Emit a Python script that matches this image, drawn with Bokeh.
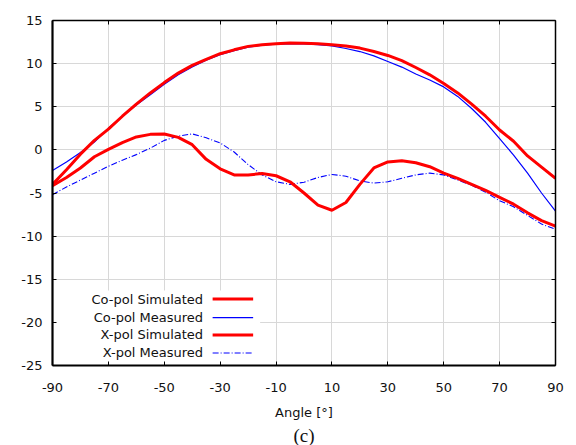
from bokeh.plotting import figure
from bokeh.models import (Range1d, LinearAxis, FixedTicker, Label, Arrow,
                          BoxAnnotation, Title)
from bokeh.embed import file_html
from bokeh.resources import INLINE

# ---------------- data ----------------
angles = list(range(-90, 91, 5))

copol_sim = [-4.0, -2.3, -0.5, 1.1, 2.4, 3.9, 5.3, 6.6, 7.8, 8.9, 9.8, 10.5,
             11.15, 11.6, 12.0, 12.2, 12.3, 12.4, 12.35, 12.3, 12.2, 12.05,
             11.8, 11.4, 10.95, 10.35, 9.55, 8.7, 7.7, 6.6, 5.3, 3.9, 2.3,
             1.0, -0.7, -2.0, -3.3]

copol_meas = [-2.4, -1.4, -0.3, 0.9, 2.5, 3.9, 5.2, 6.4, 7.6, 8.7, 9.6, 10.4,
              11.05, 11.5, 11.9, 12.15, 12.25, 12.3, 12.3, 12.2, 12.05, 11.75,
              11.4, 10.9, 10.25, 9.6, 8.8, 8.1, 7.3, 6.2, 4.8, 3.2, 1.3,
              -0.6, -2.7, -5.0, -7.1]

xpol_sim = [-4.15, -3.2, -2.1, -0.8, 0.05, 0.85, 1.5, 1.8, 1.85, 1.45, 0.6,
            -1.1, -2.2, -2.9, -2.9, -2.75, -3.0, -3.7, -5.0, -6.4, -7.0, -6.1,
            -4.0, -2.1, -1.4, -1.25, -1.5, -1.95, -2.7, -3.3, -4.0, -4.7,
            -5.5, -6.3, -7.3, -8.2, -8.85]

xpol_meas = [-5.2, -4.3, -3.5, -2.7, -1.9, -1.2, -0.55, 0.2, 1.1, 1.6, 1.85,
             1.4, 0.8, -0.25, -1.7, -2.9, -3.7, -4.0, -3.75, -3.2, -2.85,
             -3.05, -3.6, -3.85, -3.7, -3.3, -2.9, -2.7, -2.9, -3.5, -4.1,
             -4.9, -5.9, -6.6, -7.6, -8.6, -9.2]

series_labels = ["Co-pol Simulated", "Co-pol Measured", "X-pol Simulated",
                 "X-pol Measured"]
x_ticks = list(range(-90, 91, 20))
y_ticks = list(range(-25, 16, 5))
x_label = "Angle [°]"
caption = "(c)"

# ---------------- figure ----------------
FONT = "DejaVu Sans"
p = figure(width=576, height=445, output_backend="svg", toolbar_location=None,
           x_range=Range1d(-90, 90), y_range=Range1d(-25, 15),
           min_border_left=52, min_border_right=21, min_border_top=20,
           min_border_bottom=8)
p.outline_line_color = None
p.background_fill_color = "white"
p.border_fill_color = "white"

# grid
for g in (p.xgrid, p.ygrid):
    g.grid_line_color = "#d8d8d8"
    g.grid_line_width = 1
p.xgrid.ticker = FixedTicker(ticks=x_ticks)
p.ygrid.ticker = FixedTicker(ticks=y_ticks)

# main axes
xa = p.xaxis[0]
ya = p.yaxis[0]
xa.ticker = FixedTicker(ticks=x_ticks)
ya.ticker = FixedTicker(ticks=y_ticks)
xa.major_label_overrides = {t: str(t) for t in x_ticks}
ya.major_label_overrides = {t: str(t) for t in y_ticks}
for ax in (xa, ya):
    ax.axis_line_color = "black"
    ax.axis_line_width = 2.2
    ax.major_tick_in = 4
    ax.major_tick_out = 0
    ax.minor_tick_in = 0
    ax.minor_tick_out = 0
    ax.major_tick_line_color = "black"
    ax.major_tick_line_width = 1
    ax.major_label_text_font = FONT
    ax.major_label_text_font_size = "13px"
    ax.major_label_text_color = "#111111"
ya.major_label_standoff = 10
xa.major_label_standoff = 17
xa.axis_label = x_label
xa.axis_label_text_font = FONT
xa.axis_label_text_font_size = "13px"
xa.axis_label_text_font_style = "normal"
xa.axis_label_text_color = "#111111"
xa.axis_label_standoff = 10

# top / right frame axes (ticks only, empty labels)
for loc, ticks in (("right", y_ticks), ("above", x_ticks)):
    a = LinearAxis(ticker=FixedTicker(ticks=ticks))
    a.major_label_overrides = {t: "" for t in ticks}
    a.axis_line_color = "black"
    a.axis_line_width = 1.5
    a.major_tick_in = 4
    a.major_tick_out = 0
    a.minor_tick_in = 0
    a.minor_tick_out = 0
    a.major_tick_line_color = "black"
    a.major_label_standoff = 0
    p.add_layout(a, loc)

# caption
p.add_layout(Title(text=caption, align="center", text_font="Liberation Serif",
                   text_font_size="19px", text_font_style="normal",
                   text_color="#111111", standoff=0, offset=0), "below")

# ---------------- curves ----------------
p.line(angles, copol_meas, line_color="#0000ff", line_width=1.2)
p.line(angles, xpol_meas, line_color="#0000ff", line_width=1.1,
       line_dash="6 2 1 2")
p.line(angles, copol_sim, line_color="#ff0000", line_width=3)
p.line(angles, xpol_sim, line_color="#ff0000", line_width=3)

# ---------------- legend (label left, line right) ----------------
p.add_layout(BoxAnnotation(left=-90, right=-15.7, bottom=-25, top=-16.3,
                           fill_color="white", fill_alpha=1,
                           line_color=None, level="underlay"))
leg_y = [-17.3, -19.45, -21.45, -23.55]
leg_style = [dict(line_color="#ff0000", line_width=3),
             dict(line_color="#0000ff", line_width=1.2),
             dict(line_color="#ff0000", line_width=3),
             dict(line_color="#0000ff", line_width=1.1, line_dash="6 2 1 2")]
for lab, yy, st in zip(series_labels, leg_y, leg_style):
    p.add_layout(Label(x=-36.1, y=yy, text=lab, text_align="right",
                       text_baseline="middle", text_font=FONT,
                       text_font_size="13px", text_color="#111111"))
    p.add_layout(Arrow(x_start=-32.7, y_start=yy, x_end=-18.2, y_end=yy,
                       end=None, **st))

open("out.html", "w").write(file_html(p, INLINE))
